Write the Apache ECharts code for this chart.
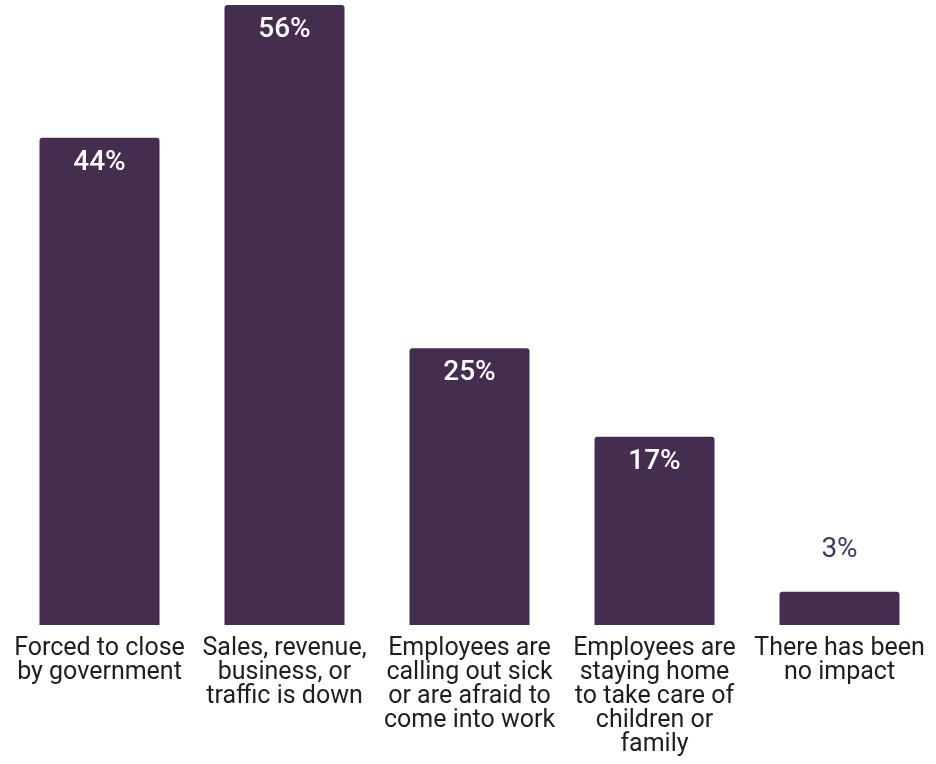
<!DOCTYPE html>
<html>
<head>
<meta charset="utf-8">
<script src="https://cdn.jsdelivr.net/npm/echarts@6/dist/echarts.min.js"></script>
<style>html,body{margin:0;padding:0;background:#fff;}#c{width:936px;height:764px;}</style>
</head>
<body>
<div id="c"></div>
<script>
const categories = [
  "Forced to close\nby government",
  "Sales, revenue,\nbusiness, or\ntraffic is down",
  "Employees are\ncalling out sick\nor are afraid to\ncome into work",
  "Employees are\nstaying home\nto take care of\nchildren or\nfamily",
  "There has been\nno impact"
];
const values = [44, 56, 25, 17, 3];

const chart = echarts.init(document.getElementById('c'));
const data = values.map(v => {
  const d = { value: v };
  if (v < 10) {
    d.label = { position: 'top', distance: 28, color: '#45375a', fontWeight: 'normal' };
  }
  return d;
});
chart.setOption({
  animation: false,
  grid: { left: 7, right: 4, top: 5, bottom: 139 },
  xAxis: {
    type: 'category',
    data: categories,
    axisLine: { show: false },
    axisTick: { show: false },
    axisLabel: {
      interval: 0,
      fontFamily: 'Roboto',
      fontSize: 25,
      lineHeight: 24,
      color: '#1e1e1e',
      margin: 12,
      align: 'center'
    }
  },
  yAxis: {
    type: 'value',
    min: 0,
    max: 56,
    show: false,
    splitLine: { show: false }
  },
  series: [{
    type: 'bar',
    data: data,
    barWidth: 120,
    itemStyle: { color: '#452d50', borderRadius: [3, 3, 0, 0] },
    label: {
      show: true,
      position: 'insideTop',
      distance: 11,
      formatter: '{c}%',
      color: '#ffffff',
      fontFamily: 'Roboto',
      fontSize: 28,
      fontWeight: 500
    }
  }]
});
</script>
</body>
</html>
